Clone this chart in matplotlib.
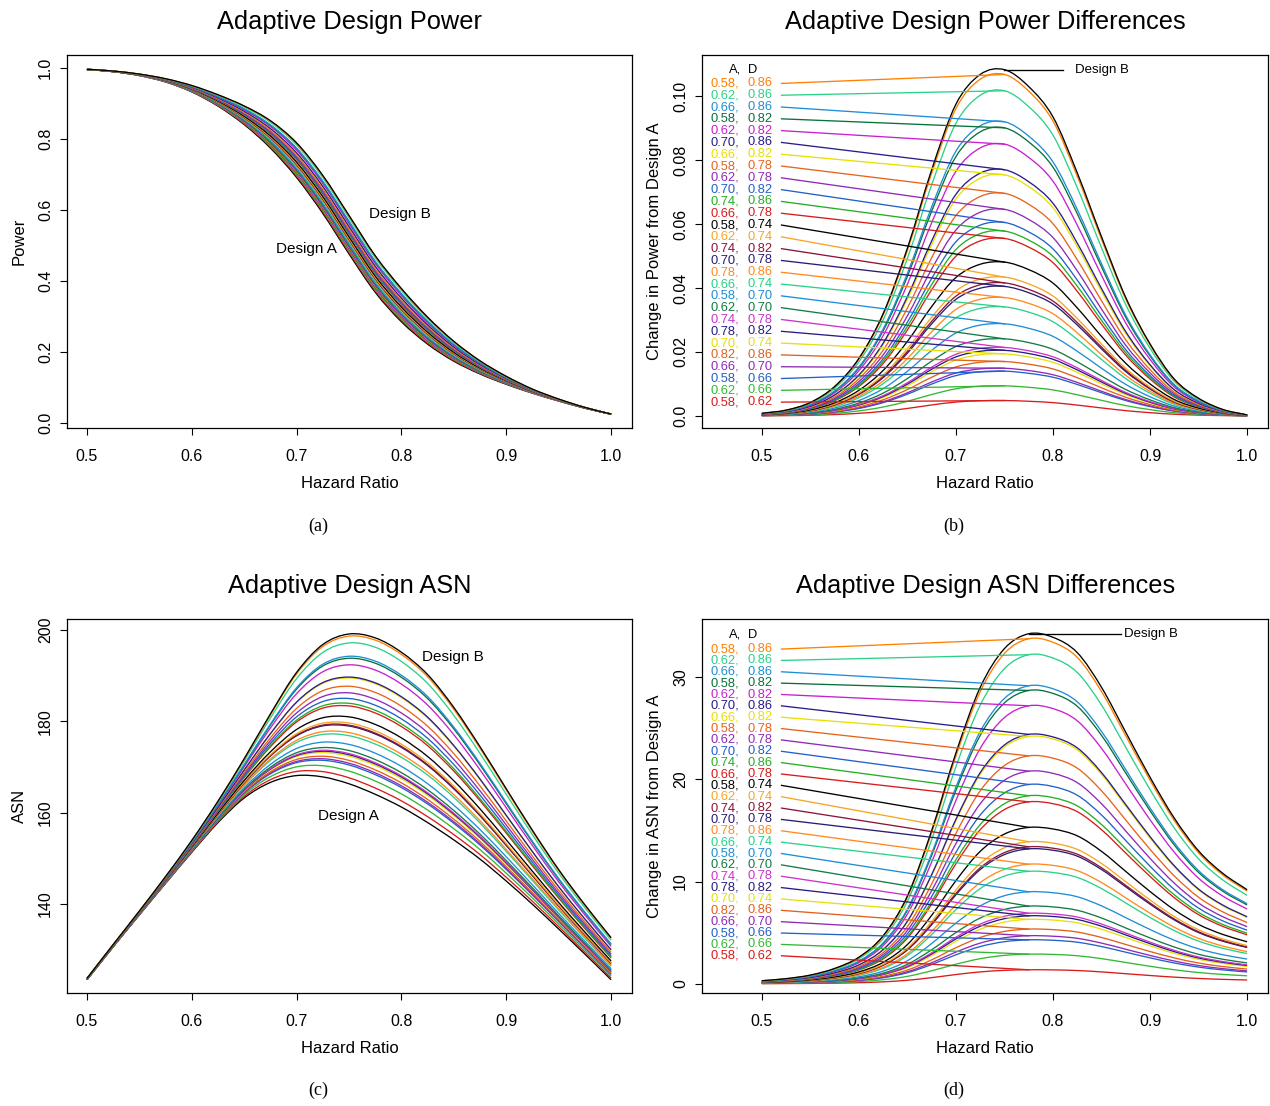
import numpy as np
import matplotlib
matplotlib.use('Agg')
import matplotlib.pyplot as plt
from matplotlib.path import Path
from matplotlib.patches import PathPatch

plt.rcParams['font.family'] = ['Liberation Sans', 'DejaVu Sans']

hazard = np.linspace(0.5, 1.0, 21)

# design pairs (A, D), in the order of the label column
design_a = [0.58, 0.62, 0.66, 0.58, 0.62, 0.70, 0.66, 0.58, 0.62, 0.70, 0.74, 0.66, 0.58, 0.62,
            0.74, 0.70, 0.78, 0.66, 0.58, 0.62, 0.74, 0.78, 0.70, 0.82, 0.66, 0.58, 0.62, 0.58]
design_d = [0.86, 0.86, 0.86, 0.82, 0.82, 0.86, 0.82, 0.78, 0.78, 0.82, 0.86, 0.78, 0.74, 0.74,
            0.82, 0.78, 0.86, 0.74, 0.70, 0.70, 0.78, 0.82, 0.74, 0.86, 0.70, 0.66, 0.66, 0.62]
colors = ['#FF7F00', '#2BD18A', '#1F8DD6', '#08703A', '#C81FD0', '#2A1C8A', '#E8E000',
          '#E8631C', '#8E2BB5', '#2360C8', '#22B022', '#D81B1B', '#000000', '#F5A623',
          '#8B1538', '#2A1C70', '#FF8A1F', '#2BD18A', '#1F8DD6', '#157A45', '#CC33CC',
          '#2A1C80', '#E5E010', '#E0601C', '#8E2BB5', '#2360C8', '#33B833', '#D81B1B']

# Design A power and ASN
power_a = [0.995, 0.989, 0.978, 0.960, 0.932, 0.892, 0.840, 0.774, 0.691, 0.590, 0.476,
           0.368, 0.285, 0.222, 0.174, 0.138, 0.109, 0.084, 0.062, 0.042, 0.025]
asn_a = [123.4, 130.6, 137.6, 144.5, 151.3, 157.8, 163.2, 166.6, 168.1, 167.8, 166.3,
         164.0, 161.2, 157.8, 154.0, 149.8, 145.0, 139.9, 134.5, 129.0, 123.4]

# Design B minus Design A (shape of the difference curves)
power_diff_b = [0.0008, 0.0018, 0.0042, 0.0092, 0.0180, 0.0320, 0.0525, 0.0770, 0.0975, 0.1068,
                0.1083, 0.1030, 0.0935, 0.0760, 0.0560, 0.0370, 0.0225, 0.0115, 0.0055, 0.0020, 0.0003]
asn_diff_b = [0.3, 0.5, 0.85, 1.5, 2.6, 4.7, 8.6, 15.0, 22.6, 29.0, 32.8,
              34.25, 33.9, 32.4, 29.0, 24.6, 20.2, 16.2, 13.0, 10.8, 9.2]

# peak difference of each design from Design A
power_peak = [0.1068, 0.1017, 0.0920, 0.0901, 0.0850, 0.0770, 0.0754, 0.0696, 0.0646, 0.0605,
              0.0578, 0.0555, 0.0481, 0.0434, 0.0416, 0.0405, 0.0370, 0.0341, 0.0288, 0.0241,
              0.0214, 0.0205, 0.0194, 0.0170, 0.0149, 0.0140, 0.0094, 0.0048]
asn_peak = [33.76, 32.2, 29.16, 28.7, 27.2, 24.4, 24.2, 22.3, 20.8, 19.5, 18.4, 17.8, 15.3, 13.9,
            13.4, 13.2, 11.7, 11.0, 9.0, 7.6, 6.9, 6.65, 6.3, 5.35, 4.7, 4.3, 2.9, 1.37]

power_a = np.array(power_a)
asn_a = np.array(asn_a)
power_diff_b = np.array(power_diff_b)
asn_diff_b = np.array(asn_diff_b)
power_diffs = np.outer(np.array(power_peak) / power_diff_b.max(), power_diff_b)
asn_diffs = np.outer(np.array(asn_peak) / asn_diff_b.max(), asn_diff_b)

LW = 0.95
xticks = [0.5, 0.6, 0.7, 0.8, 0.9, 1.0]


def curve(ax, x, y, color):
    # smooth bezier line through the read points
    x = np.asarray(x, dtype=float)
    y = np.asarray(y, dtype=float)
    xe = np.concatenate([[2 * x[0] - x[1]], x, [2 * x[-1] - x[-2]]])
    ye = np.concatenate([[2 * y[0] - y[1]], y, [2 * y[-1] - y[-2]]])
    verts = [(x[0], y[0])]
    codes = [Path.MOVETO]
    for i in range(1, len(xe) - 2):
        c1 = (xe[i] + (xe[i + 1] - xe[i - 1]) / 6, ye[i] + (ye[i + 1] - ye[i - 1]) / 6)
        c2 = (xe[i + 1] - (xe[i + 2] - xe[i]) / 6, ye[i + 1] - (ye[i + 2] - ye[i]) / 6)
        verts += [c1, c2, (xe[i + 1], ye[i + 1])]
        codes += [Path.CURVE4] * 3
    ax.add_patch(PathPatch(Path(verts, codes), fill=False, edgecolor=color, lw=LW))


def setup(ax, title, ylabel, yticks, ylabels, xlim, ylim):
    ax.set_xlim(*xlim)
    ax.set_ylim(*ylim)
    ax.set_xticks(xticks)
    ax.set_xticklabels([f"{t:.1f}" for t in xticks])
    ax.set_yticks(yticks)
    ax.set_yticklabels(ylabels, rotation=90, va='center')
    ax.tick_params(direction='out', length=5, width=0.8, labelsize=11.5)
    ax.tick_params(axis='x', pad=10)
    ax.tick_params(axis='y', pad=5)
    for s in ax.spines.values():
        s.set_linewidth(0.9)
    ax.set_title(title, fontsize=18.3, pad=19)
    ax.set_xlabel('Hazard Ratio', fontsize=12, labelpad=9)
    ax.set_ylabel(ylabel, fontsize=12, labelpad=8)


def label_column(ax, tops, header_y, peaks_x, peaks_y):
    ys = np.linspace(tops[0], tops[1], len(design_a))
    ax.text(0.479, header_y, 'A,', ha='right', va='center', fontsize=9.3)
    ax.text(0.4853, header_y, 'D', ha='left', va='center', fontsize=9.3)
    for i in range(len(design_a)):
        ax.text(0.4766, ys[i], f"{design_a[i]:.2f},", ha='right', va='center',
                fontsize=9.3, color=colors[i])
        ax.text(0.4853, ys[i], f"{design_d[i]:.2f}", ha='left', va='center',
                fontsize=9.3, color=colors[i])
        ax.plot([0.5203, peaks_x[i]], [ys[i], peaks_y[i]], color=colors[i], lw=LW)


fig = plt.figure(figsize=(12.7, 11.06), dpi=100)
ax_a = fig.add_axes([0.0528, 0.6130, 0.4449, 0.3373])
ax_b = fig.add_axes([0.5528, 0.6130, 0.4457, 0.3373])
ax_c = fig.add_axes([0.0528, 0.1022, 0.4449, 0.3382])
ax_d = fig.add_axes([0.5528, 0.1022, 0.4457, 0.3382])

# (a) power
curve(ax_a, hazard, power_a, 'black')
for i in reversed(range(len(design_a))):
    curve(ax_a, hazard, power_a + power_diffs[i], colors[i])
curve(ax_a, hazard, power_a + power_diff_b, 'black')
ax_a.text(0.709, 0.489, 'Design A', ha='center', va='center', fontsize=11)
ax_a.text(0.7987, 0.589, 'Design B', ha='center', va='center', fontsize=11)
setup(ax_a, 'Adaptive Design Power', 'Power', [0, 0.2, 0.4, 0.6, 0.8, 1.0],
      ['0.0', '0.2', '0.4', '0.6', '0.8', '1.0'], (0.481, 1.02), (-0.014, 1.036))

# (b) power differences
pk = np.argmax(power_diff_b)
for i in reversed(range(len(design_a))):
    curve(ax_b, hazard, power_diffs[i], colors[i])
curve(ax_b, hazard, power_diff_b, 'black')
label_column(ax_b, (0.1040, 0.0043), 0.1082, [hazard[pk]] * len(design_a), power_diffs[:, pk])
ax_b.plot([hazard[pk], 0.810], [power_diff_b[pk], power_diff_b[pk]], color='black', lw=LW)
ax_b.text(0.8227, power_diff_b[pk], 'Design B', ha='left', va='center', fontsize=9.5)
setup(ax_b, 'Adaptive Design Power Differences', 'Change in Power from Design A',
      [0, 0.02, 0.04, 0.06, 0.08, 0.10], ['0.0', '0.02', '0.04', '0.06', '0.08', '0.10'],
      (0.4384, 1.0216), (-0.0038, 0.1129))

# (c) ASN
curve(ax_c, hazard, asn_a, 'black')
for i in reversed(range(len(design_a))):
    curve(ax_c, hazard, asn_a + asn_diffs[i], colors[i])
curve(ax_c, hazard, asn_a + asn_diff_b, 'black')
ax_c.text(0.749, 159.3, 'Design A', ha='center', va='center', fontsize=11)
ax_c.text(0.849, 194.1, 'Design B', ha='center', va='center', fontsize=11)
setup(ax_c, 'Adaptive Design ASN', 'ASN', [140, 160, 180, 200],
      ['140', '160', '180', '200'], (0.481, 1.02), (120.5, 202.4))

# (d) ASN differences
pk = np.argmax(asn_diff_b)
for i in reversed(range(len(design_a))):
    curve(ax_d, hazard, asn_diffs[i], colors[i])
curve(ax_d, hazard, asn_diff_b, 'black')
label_column(ax_d, (32.75, 2.74), 34.15, [hazard[pk]] * len(design_a), asn_diffs[:, pk])
ax_d.plot([hazard[pk], 0.870], [asn_diff_b[pk], asn_diff_b[pk]], color='black', lw=LW)
ax_d.text(0.873, asn_diff_b[pk], 'Design B', ha='left', va='center', fontsize=9.5)
setup(ax_d, 'Adaptive Design ASN Differences', 'Change in ASN from Design A',
      [0, 10, 20, 30], ['0', '10', '20', '30'], (0.4384, 1.0216), (-0.9, 35.7))

for x, y, t in [(0.2504, 0.5244, '(a)'), (0.7512, 0.5244, '(b)'),
                (0.2504, 0.0145, '(c)'), (0.7512, 0.0145, '(d)')]:
    fig.text(x, y, t, ha='center', va='center', fontsize=13, family='Liberation Serif')

fig.savefig('out.png', dpi=100)
